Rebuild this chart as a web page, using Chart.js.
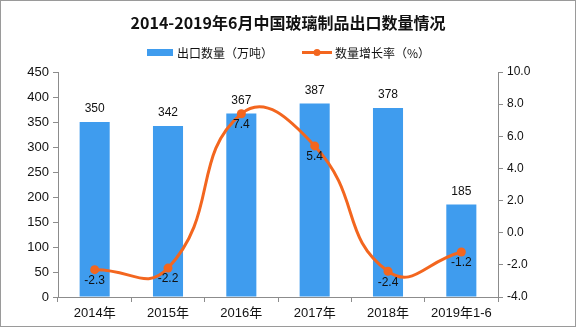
<!DOCTYPE html>
<html>
<head>
<meta charset="utf-8">
<script src="https://cdn.jsdelivr.net/npm/chart.js"></script>
<style>
  html, body { margin: 0; padding: 0; background: #fff; }
  #wrap { width: 576px; height: 327px; position: relative; }
</style>
</head>
<body>
<div id="wrap"><canvas id="chart" width="576" height="327"></canvas></div>
<script>
'use strict'

const categories = ['2014年', '2015年', '2016年', '2017年', '2018年', '2019年1-6']
const exportVolume = [350, 342, 367, 387, 378, 185]
const growthRate = [-2.3, -2.2, 7.4, 5.4, -2.4, -1.2]
const leftTicks = [0, 50, 100, 150, 200, 250, 300, 350, 400, 450]
const rightTicks = [-4, -2, 0, 2, 4, 6, 8, 10]

const titleText = '2014-2019年6月中国玻璃制品出口数量情况'
const barLabel = '出口数量（万吨）'
const lineLabel = '数量增长率（%）'

const BLUE = '#3f9cee'
const ORANGE = '#f3661f'
const AXIS = '#8c8c8c'
const FONT = "'Liberation Sans', 'Noto Sans CJK SC', sans-serif"

// title, legend, value labels and frame
const decorations = {
  id: 'decorations',
  afterDraw(chart) {
    const ctx = chart.ctx
    ctx.save()

    ctx.fillStyle = '#111'
    ctx.font = "bold 16px 'Noto Sans CJK SC', sans-serif"
    ctx.textAlign = 'center'
    ctx.textBaseline = 'middle'
    ctx.fillText(titleText, 288, 23)

    ctx.font = "12px 'Noto Sans CJK SC', sans-serif"
    ctx.textAlign = 'left'
    ctx.fillStyle = BLUE
    ctx.fillRect(147, 49, 26, 7)
    ctx.fillStyle = '#111'
    ctx.fillText(barLabel, 177, 53)

    ctx.strokeStyle = ORANGE
    ctx.lineWidth = 3
    ctx.beginPath()
    ctx.moveTo(302, 52.5)
    ctx.lineTo(332, 52.5)
    ctx.stroke()
    ctx.fillStyle = ORANGE
    ctx.beginPath()
    ctx.arc(317, 52.5, 3.5, 0, Math.PI * 2)
    ctx.fill()
    ctx.fillStyle = '#111'
    ctx.fillText(lineLabel, 335, 53)

    ctx.font = '12px ' + FONT
    ctx.textAlign = 'center'
    chart.getDatasetMeta(1).data.forEach((bar, i) => {
      ctx.fillText(String(exportVolume[i]), bar.x, bar.y - 13)
    })
    chart.getDatasetMeta(0).data.forEach((pt, i) => {
      ctx.fillText(growthRate[i].toFixed(1), pt.x, pt.y + 11)
    })

    ctx.strokeStyle = '#9a9a9a'
    ctx.lineWidth = 1
    ctx.strokeRect(0.5, 0.5, 575, 326)
    ctx.restore()
  }
}

new Chart(document.getElementById('chart').getContext('2d'), {
  data: {
    labels: categories,
    datasets: [
      {
        type: 'line',
        data: growthRate,
        yAxisID: 'y1',
        borderColor: ORANGE,
        backgroundColor: ORANGE,
        borderWidth: 3,
        tension: 0.5,
        pointRadius: 4.5,
        pointBorderWidth: 0,
        order: 0
      },
      {
        type: 'bar',
        data: exportVolume,
        yAxisID: 'y',
        backgroundColor: BLUE,
        barPercentage: 0.41,
        categoryPercentage: 1,
        order: 1
      }
    ]
  },
  options: {
    responsive: false,
    animation: false,
    layout: { padding: { top: 72, left: 0, right: 0, bottom: 0 } },
    plugins: { legend: { display: false }, tooltip: { enabled: false } },
    scales: {
      x: {
        afterFit: s => { s.height = 30 },
        grid: {
          offset: true,
          drawOnChartArea: false,
          color: AXIS,
          tickLength: 5
        },
        border: { color: AXIS },
        ticks: { color: '#111', font: { family: FONT, size: 13 }, padding: 4 }
      },
      y: {
        position: 'left',
        min: 0,
        max: 450,
        afterFit: s => { s.width = 58 },
        afterBuildTicks: s => { s.ticks = leftTicks.map(v => ({ value: v })) },
        grid: { drawOnChartArea: false, color: AXIS, tickLength: 5 },
        border: { color: AXIS },
        ticks: { color: '#111', font: { family: FONT, size: 13 }, padding: 4 }
      },
      y1: {
        position: 'right',
        min: -4,
        max: 10,
        afterFit: s => { s.width = 78 },
        afterBuildTicks: s => { s.ticks = rightTicks.map(v => ({ value: v })) },
        grid: { drawOnChartArea: false, color: AXIS, tickLength: 5 },
        border: { color: AXIS },
        ticks: {
          color: '#111',
          font: { family: FONT, size: 12 },
          padding: 4,
          callback: v => v.toFixed(1)
        }
      }
    }
  },
  plugins: [decorations]
})
</script>
</body>
</html>
